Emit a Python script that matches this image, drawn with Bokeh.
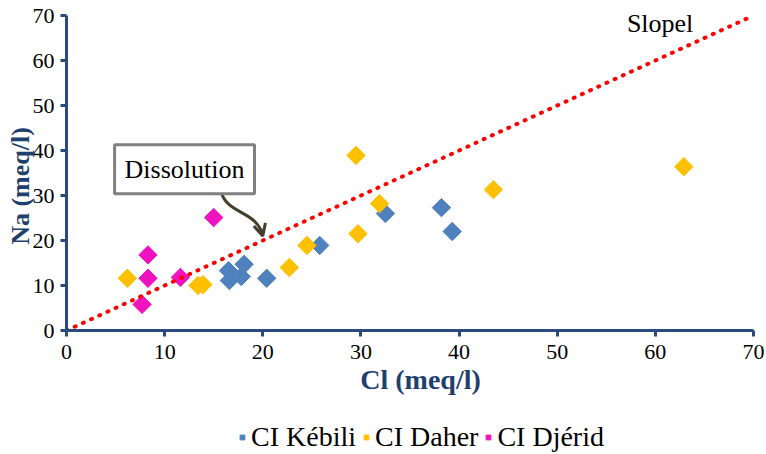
from bokeh.plotting import figure
from bokeh.models import Range1d, FixedTicker, Legend, LegendItem, Label, Arrow, OpenHead
from bokeh.embed import file_html
from bokeh.resources import INLINE
from math import pi

# --- data ---
kebili_cl = [16.5, 16.6, 17.8, 18.1, 20.4, 25.8, 32.5, 38.2, 39.3]
kebili_na = [13.3, 11.1, 12.0, 14.7, 11.6, 18.9, 26.0, 27.3, 22.0]
daher_cl = [6.2, 13.4, 13.9, 22.7, 24.5, 29.5, 29.7, 31.9, 43.5, 62.9]
daher_na = [11.6, 10.0, 10.2, 14.0, 18.9, 38.9, 21.5, 28.2, 31.3, 36.4]
djerid_cl = [7.7, 8.3, 8.3, 11.6, 15.0]
djerid_na = [5.8, 11.6, 16.8, 11.8, 25.1]
slope_x = [0, 70]
slope_y = [0, 70]
ticks = [0, 10, 20, 30, 40, 50, 60, 70]
series_labels = ["CI Kébili", "CI Daher", "CI Djérid"]

SERIF = "Liberation Serif"
AXIS_COLOR = "#2A4B7C"
TITLE_COLOR = "#1F3F6E"

# plot frame covers the whole canvas; data 0..70 occupies the region 66..753 x 15..330 px
PX_PER_Y = 315 / 70
Y_MIN = -124 / PX_PER_Y
Y_MAX = 70 + 15 / PX_PER_Y
PX_PER_X = 687 / 70
X_MIN = -66 / PX_PER_X
X_MAX = 70 + 13 / PX_PER_X

p = figure(frame_width=766, frame_height=454,
           x_range=Range1d(X_MIN, X_MAX), y_range=Range1d(Y_MIN, Y_MAX),
           output_backend="svg", toolbar_location=None,
           min_border_left=0, min_border_right=0, min_border_top=0, min_border_bottom=0)
p.outline_line_color = None
p.xgrid.visible = False
p.ygrid.visible = False
p.background_fill_color = "white"
p.border_fill_color = "white"

for ax in (p.xaxis[0], p.yaxis[0]):
    ax.ticker = FixedTicker(ticks=ticks)
    ax.bounds = (0, 70)
    ax.fixed_location = 0
    ax.axis_line_color = AXIS_COLOR
    ax.axis_line_width = 3
    ax.major_tick_line_color = AXIS_COLOR
    ax.major_tick_line_width = 3
    ax.major_tick_out = 6
    ax.major_tick_in = 0
    ax.minor_tick_line_color = None
    ax.major_label_text_font = SERIF
    ax.major_label_text_font_size = "22px"
    ax.major_label_text_color = "black"
    ax.axis_label_text_font = SERIF
    ax.axis_label_text_font_style = "bold"
    ax.axis_label_text_color = TITLE_COLOR

p.xaxis.axis_label = "\u00a0" * 3 + "Cl (meq/l)"
p.yaxis.axis_label = "Na (meq/l)" + "\u00a0" * 4
p.xaxis.axis_label_text_font_size = "28px"
p.yaxis.axis_label_text_font_size = "26px"
p.xaxis.major_label_standoff = 8
p.xaxis.axis_label_standoff = 2
p.yaxis.major_label_standoff = 6
p.yaxis.axis_label_standoff = -5

r1 = p.scatter(kebili_cl, kebili_na, marker="square", angle=pi / 4, size=13,
               fill_color="#4F81BD", line_color="#4F81BD")
r2 = p.scatter(daher_cl, daher_na, marker="square", angle=pi / 4, size=13,
               fill_color="#FFC000", line_color="#FFC000")
r3 = p.scatter(djerid_cl, djerid_na, marker="square", angle=pi / 4, size=13,
               fill_color="#F012BE", line_color="#F012BE")

p.line(slope_x, slope_y, line_color="#FF0000", line_width=4, line_dash="1 8", line_cap="round")

# annotations
p.add_layout(Label(x=57.1, y=64.9, text="Slopel", text_font=SERIF, text_font_size="26px",
                   text_color="black"))
p.add_layout(Label(x=4.9, y=30.4, text="Dissolution", text_font=SERIF, text_font_size="26px",
                   text_color="black", border_line_color="#808080", border_line_width=3,
                   background_fill_color="white", padding=10))
p.bezier(x0=[15.7], y0=[31.3], x1=[20.0], y1=[21.0], cx0=[16.2], cy0=[25.6], cx1=[19.4], cy1=[26.9],
         line_color="#453F2C", line_width=3)
p.add_layout(Arrow(x_start=19.8, y_start=22.6, x_end=20.0, y_end=21.0, line_color="#453F2C",
                   line_width=3, end=OpenHead(size=12, line_color="#453F2C", line_width=3)))

legend = Legend(items=[LegendItem(label=series_labels[0], renderers=[r1]),
                       LegendItem(label=series_labels[1], renderers=[r2]),
                       LegendItem(label=series_labels[2], renderers=[r3])],
                orientation="horizontal", location=(236, 1))
legend.label_text_font = SERIF
legend.label_text_font_size = "28px"
legend.label_text_color = "black"
legend.border_line_color = None
legend.background_fill_alpha = 0
legend.glyph_width = 12
legend.glyph_height = 20
legend.label_standoff = 3
legend.spacing = 4
legend.padding = 0
legend.margin = 0
p.add_layout(legend)

open("out.html", "w").write(file_html(p, INLINE))
